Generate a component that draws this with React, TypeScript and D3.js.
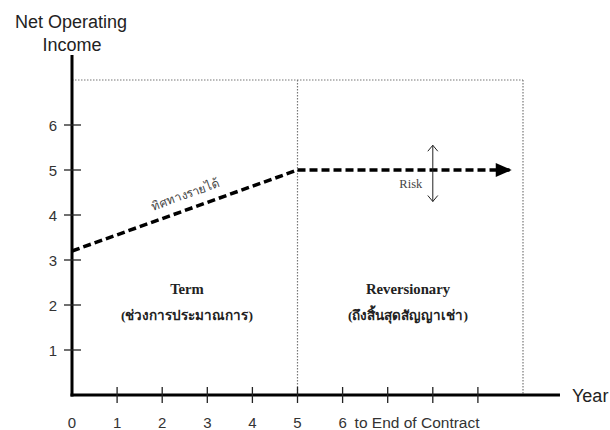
import * as d3 from 'd3';

const W = 610;
const H = 430;

// axis ticks
const yearTicks = [1, 2, 3, 4, 5, 6, 7, 8, 9];
const yearLabels = ['0', '1', '2', '3', '4', '5', '6'];
const incomeTicks = [1, 2, 3, 4, 5, 6];

// income path
const termYears = [0, 5];
const termIncome = [3.2, 5];
const reversionYears = [5, 9.75];
const reversionIncome = [5, 5];

// risk band around reversion income
const riskYear = 8;
const riskRange = [4.3, 5.55];

// frame
const frameTop = 7;
const frameDivider = 5;
const frameEnd = 10;
const axisEnd = 10.82;

const x = d3.scaleLinear().domain([0, 10]).range([72, 523]);
const y = d3.scaleLinear().domain([0, 7]).range([395, 80]);

const sans = '"Liberation Sans", Arial, sans-serif';
const serif = '"Liberation Serif", "Times New Roman", serif';

export default function App() {
  const termPath =
    d3
      .line<number>()
      .x((d) => x(d))
      .y((_, i) => y(termIncome[i]))(termYears) ?? '';
  const revPath =
    d3
      .line<number>()
      .x((d) => x(d))
      .y((_, i) => y(reversionIncome[i]))(reversionYears) ?? '';

  const x0 = x(termYears[0]);
  const y0 = y(termIncome[0]);
  const x1 = x(termYears[1]);
  const y1 = y(termIncome[1]);
  const angle = (Math.atan2(y1 - y0, x1 - x0) * 180) / Math.PI;

  const arrowTipX = x(reversionYears[1]);
  const arrowY = y(reversionIncome[1]);

  const riskX = x(riskYear);
  const riskTop = y(riskRange[1]);
  const riskBottom = y(riskRange[0]);

  const dotted = { stroke: '#777', strokeWidth: 1.2, strokeDasharray: '1.5 1.5', fill: 'none' };

  return (
    <svg
      width={W}
      height={H}
      viewBox={`0 0 ${W} ${H}`}
      style={{ position: 'absolute', left: 0, top: 0, background: '#fff' }}
    >
      {/* dotted frame */}
      <line x1={x(0)} x2={x(frameEnd)} y1={y(frameTop)} y2={y(frameTop)} {...dotted} />
      <line x1={x(frameDivider)} x2={x(frameDivider)} y1={y(frameTop)} y2={y(0)} {...dotted} />
      <line x1={x(frameEnd)} x2={x(frameEnd)} y1={y(frameTop)} y2={y(0)} {...dotted} />

      {/* axes */}
      <line x1={x(0)} x2={x(0)} y1={55} y2={y(0) + 1.5} stroke="#000" strokeWidth={3} />
      <line x1={x(0) - 1.5} x2={x(axisEnd)} y1={y(0)} y2={y(0)} stroke="#000" strokeWidth={3} />

      {incomeTicks.map((t) => (
        <g key={`yt${t}`}>
          <line x1={x(0) - 8} x2={x(0) + 9} y1={y(t)} y2={y(t)} stroke="#222" strokeWidth={1.3} />
          <text x={x(0) - 19} y={y(t) + 5.5} fontFamily={sans} fontSize={15} fill="#333" textAnchor="middle">
            {t}
          </text>
        </g>
      ))}

      {yearTicks.map((t) => (
        <line key={`xt${t}`} x1={x(t)} x2={x(t)} y1={y(0) - 8} y2={y(0) + 8} stroke="#222" strokeWidth={1.3} />
      ))}
      {yearLabels.map((l, i) => (
        <text key={`xl${i}`} x={x(i)} y={428} fontFamily={sans} fontSize={15} fill="#333" textAnchor="middle">
          {l}
        </text>
      ))}
      <text x={x(6) + 12} y={428} fontFamily={sans} fontSize={15.5} fill="#333">
        to End of Contract
      </text>

      {/* axis titles */}
      <text x={71} y={28} fontFamily={sans} fontSize={18} fill="#222" textAnchor="middle">
        Net Operating
      </text>
      <text x={72} y={51} fontFamily={sans} fontSize={18} fill="#222" textAnchor="middle">
        Income
      </text>
      <text x={572} y={402} fontFamily={sans} fontSize={18} fill="#222">
        Year
      </text>

      {/* income paths */}
      <path d={termPath} stroke="#000" strokeWidth={3.5} strokeDasharray="8 4" fill="none" />
      <path d={revPath} stroke="#000" strokeWidth={3.5} strokeDasharray="8 4" fill="none" />
      <path
        d={`M${arrowTipX - 16},${arrowY - 7} L${arrowTipX},${arrowY} L${arrowTipX - 16},${arrowY + 7} Z`}
        fill="#000"
      />

      {/* direction label */}
      <text
        transform={`translate(${(x0 + x1) / 2 + 2},${(y0 + y1) / 2 - 12}) rotate(${angle})`}
        fontFamily={serif}
        fontSize={12}
        fill="#444"
        textAnchor="middle"
      >
        ทิศทางรายได้
      </text>

      {/* risk arrow */}
      <line x1={riskX} x2={riskX} y1={riskTop} y2={riskBottom} stroke="#222" strokeWidth={1} />
      <path d={`M${riskX - 5},${riskTop + 6} L${riskX},${riskTop} L${riskX + 5},${riskTop + 6}`} stroke="#222" fill="none" />
      <path
        d={`M${riskX - 5},${riskBottom - 6} L${riskX},${riskBottom} L${riskX + 5},${riskBottom - 6}`}
        stroke="#222"
        fill="none"
      />
      <text x={riskX - 22} y={arrowY + 18} fontFamily={serif} fontSize={12.5} fill="#444" textAnchor="middle">
        Risk
      </text>

      {/* period labels */}
      <text x={187} y={294} fontFamily={serif} fontSize={14.7} fontWeight="bold" fill="#222" textAnchor="middle">
        Term
      </text>
      <text x={187} y={320} fontFamily={serif} fontSize={13.5} fontWeight="bold" fill="#222" textAnchor="middle">
        (ช่วงการประมาณการ)
      </text>
      <text x={408} y={294} fontFamily={serif} fontSize={14.7} fontWeight="bold" fill="#222" textAnchor="middle">
        Reversionary
      </text>
      <text x={408} y={320} fontFamily={serif} fontSize={13.5} fontWeight="bold" fill="#222" textAnchor="middle">
        (ถึงสิ้นสุดสัญญาเช่า)
      </text>
    </svg>
  );
}
